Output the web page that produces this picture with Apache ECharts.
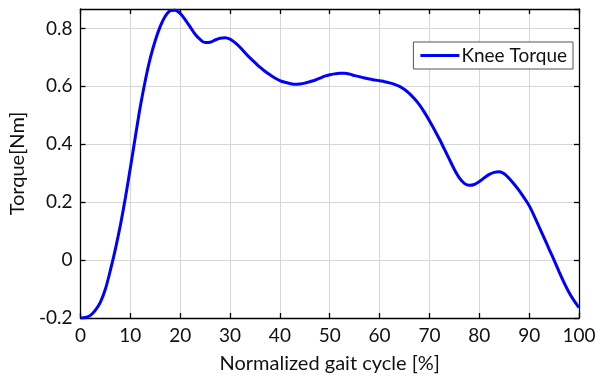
<!DOCTYPE html>
<html>
<head>
<meta charset="utf-8">
<script src="https://cdn.jsdelivr.net/npm/echarts@6/dist/echarts.min.js"></script>
<style>
html,body{margin:0;padding:0;background:#fff;}
#chart{width:606px;height:379px;}
</style>
</head>
<body>
<div id="chart"></div>
<script>
var gaitPercent = [0,1,2,3,4,5,6,7,8,9,10,11,12,13,14,15,16,17,18,19,20,21,22,23,24,25,26,27,28,29,30,31,32,33,34,35,36,37,38,39,40,41,42,43,44,45,46,47,48,49,50,51,52,53,54,55,56,57,58,59,60,61,62,63,64,65,66,67,68,69,70,71,72,73,74,75,76,77,78,79,80,81,82,83,84,85,86,87,88,89,90,91,92,93,94,95,96,97,98,99,100];
var kneeTorque = [-0.2,-0.198,-0.191,-0.173,-0.145,-0.1,-0.035,0.038,0.12,0.214,0.318,0.425,0.53,0.62,0.697,0.758,0.807,0.842,0.861,0.863,0.852,0.83,0.805,0.78,0.762,0.751,0.752,0.76,0.766,0.768,0.763,0.751,0.735,0.716,0.698,0.682,0.666,0.652,0.64,0.629,0.62,0.614,0.61,0.607,0.608,0.611,0.616,0.621,0.628,0.635,0.64,0.643,0.645,0.645,0.642,0.637,0.633,0.629,0.625,0.622,0.619,0.616,0.612,0.607,0.6,0.589,0.575,0.557,0.536,0.51,0.481,0.45,0.418,0.383,0.348,0.313,0.284,0.265,0.258,0.261,0.271,0.284,0.296,0.303,0.305,0.298,0.282,0.262,0.24,0.215,0.188,0.153,0.115,0.077,0.038,0.0,-0.04,-0.078,-0.112,-0.14,-0.164];
var seriesName = 'Knee Torque';
var xTitle = 'Normalized gait cycle [%]';
var yTitle = 'Torque[Nm]';

var FONT = 'Lato';
var chart = echarts.init(document.getElementById('chart'), null, {renderer:'canvas'});
var data = gaitPercent.map(function(x,i){return [x, kneeTorque[i]];});
var axisLine = {show:true, onZero:false, lineStyle:{color:'#000', width:1.3}};
var axisTick = {show:true, inside:true, length:5, lineStyle:{color:'#000', width:1.3}};
var split = {show:true, lineStyle:{color:'#d6d6d6', width:1}};
var option = {
  animation:false,
  backgroundColor:'#fff',
  grid:{left:78, right:27, top:9, bottom:55, containLabel:false},
  legend:{
    data:[seriesName], right:33, top:42, orient:'vertical',
    backgroundColor:'#fff', borderColor:'#555', borderWidth:1, borderRadius:0,
    padding:[4,6,4,7], itemWidth:39, itemHeight:3, itemGap:0,
    icon:'rect',
    textStyle:{fontFamily:FONT, fontSize:19, color:'#111', padding:[0,0,0,-3]}
  },
  xAxis:[{
    type:'value', min:0, max:100, interval:10,
    name:xTitle, nameLocation:'middle', nameGap:36,
    nameTextStyle:{fontFamily:FONT, fontSize:20, color:'#111'},
    axisLine:axisLine, axisTick:axisTick, splitLine:split,
    axisLabel:{fontFamily:FONT, fontSize:19, color:'#111', margin:8}
  },{
    type:'value', min:0, max:100, interval:10, position:'top',
    axisLine:axisLine, axisTick:axisTick, splitLine:{show:false}, axisLabel:{show:false}
  }],
  yAxis:[{
    type:'value', min:-0.2, max:0.867, interval:0.2,
    name:yTitle, nameLocation:'middle', nameGap:45,
    nameTextStyle:{fontFamily:FONT, fontSize:20, color:'#111'},
    axisLine:axisLine, axisTick:axisTick, splitLine:split,
    axisLabel:{fontFamily:FONT, fontSize:19, color:'#111', margin:8, showMaxLabel:false,
      formatter:function(v){var r=Math.round(v*10)/10; return r===0?'0':String(r);}}
  },{
    type:'value', min:-0.2, max:0.867, interval:0.2, position:'right',
    axisLine:axisLine, axisTick:axisTick, splitLine:{show:false}, axisLabel:{show:false}
  }],
  series:[{
    name:seriesName, type:'line', data:data, smooth:0.3, showSymbol:false,
    lineStyle:{color:'#0000ff', width:3}, itemStyle:{color:'#0000ff'}
  }]
};
chart.setOption(option);
</script>
</body>
</html>
